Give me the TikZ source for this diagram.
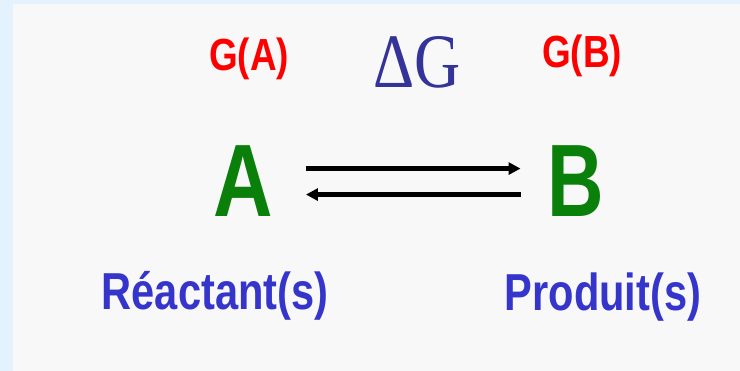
\documentclass[tikz,border=0pt]{standalone}
\usepackage{fontspec}
\usepackage{graphicx}
\setmainfont{Liberation Serif}
\newfontfamily\arialfont{Liberation Sans}
\usetikzlibrary{arrows.meta, positioning}
\definecolor{gibbsRed}{HTML}{FF0000}
\definecolor{gibbsNavy}{HTML}{333399}
\definecolor{speciesGreen}{HTML}{0A800A}
\definecolor{labelBlue}{HTML}{3535CC}
\definecolor{frameBlue}{HTML}{E4F2FD}
\definecolor{panelGrey}{HTML}{F8F8F8}

\begin{document}
\begin{tikzpicture}[x=1pt, y=-1pt,
  gname/.style={anchor=base, inner sep=0pt, text=gibbsRed,
    font=\arialfont\bfseries\fontsize{45}{45}\selectfont},
  delta/.style={anchor=base, inner sep=0pt, text=gibbsNavy,
    font=\fontsize{77}{77}\selectfont},
  species/.style={anchor=base, inner sep=0pt, text=speciesGreen,
    font=\arialfont\bfseries\fontsize{103}{103}\selectfont},
  role/.style={anchor=base, inner sep=0pt, text=labelBlue,
    font=\arialfont\bfseries\fontsize{52}{52}\selectfont},
  arr/.style={-{Triangle[length=12pt, width=12pt]}, line width=4.6pt, black}
]
% background and panel
\fill[frameBlue] (0,0) rectangle (740,371);
\fill[panelGrey] (13,4) rectangle (740,371);
\useasboundingbox (0,0) rectangle (740,371);

% free energies
\node[gname] (ga) at (249,71) {\scalebox{0.82}[1]{G(A)}};
\node[delta] (dg) at (417,88) {\scalebox{0.83}[1]{ΔG}};
\node[gname] (gb) at (582,68) {\scalebox{0.82}[1]{G(B)}};

% species
\node[species] (a) at (243,217) {\scalebox{0.8}[1]{A}};
\node[species] (b) at (576,217) {\scalebox{0.76}[1]{B}};

% labels
\node[role] (reac) at (215,310) {\scalebox{0.8}[1]{Réactant(s)}};
\node[role] (prod) at (603,311) {\scalebox{0.8}[1]{Produit(s)}};

% equilibrium arrows
\draw[arr, shorten <=33pt, shorten >=27pt] ([yshift=13pt]a.east) -- ([yshift=13pt]b.west);
\draw[arr, shorten <=27pt, shorten >=33pt] ([yshift=-13pt]b.west) -- ([yshift=-13pt]a.east);
\end{tikzpicture}
\end{document}
